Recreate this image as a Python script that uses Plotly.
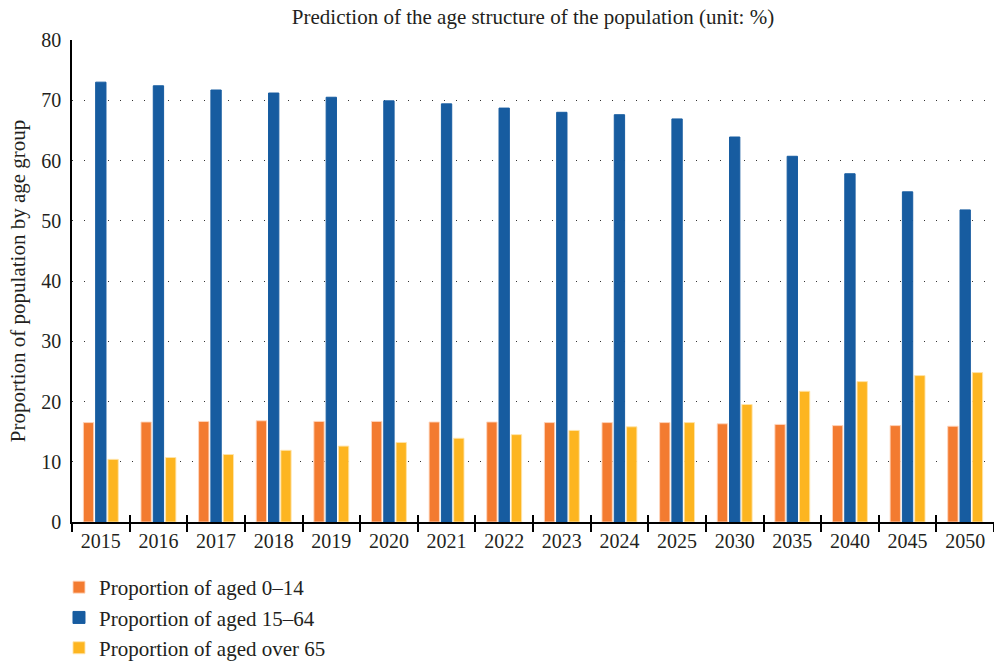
import plotly.graph_objects as go

# Forecast years and age-group shares (%)
years = ["2015", "2016", "2017", "2018", "2019", "2020", "2021", "2022",
         "2023", "2024", "2025", "2030", "2035", "2040", "2045", "2050"]
aged_0_14 = [16.5, 16.6, 16.7, 16.8, 16.7, 16.7, 16.6, 16.6,
             16.5, 16.5, 16.5, 16.3, 16.2, 16.0, 16.0, 15.9]
aged_15_64 = [73.0, 72.4, 71.7, 71.2, 70.5, 69.9, 69.4, 68.7,
              68.0, 67.6, 66.9, 63.9, 60.7, 57.8, 54.8, 51.8]
aged_65_plus = [10.4, 10.7, 11.2, 11.9, 12.6, 13.2, 13.9, 14.5,
                15.2, 15.8, 16.5, 19.5, 21.7, 23.3, 24.3, 24.8]

series_names = ["Proportion of aged 0\u201314",
                "Proportion of aged 15\u201364",
                "Proportion of aged over 65"]
series_colors = ["#F37B30", "#175CA0", "#FDB520"]
series_edges = ["rgba(255,214,190,0.9)", "rgba(23,92,160,1)", "rgba(255,228,170,0.9)"]

FONT = "Liberation Serif, Times New Roman, serif"
INK = "#231f20"

fig = go.Figure()
for i, (name, vals) in enumerate(zip(series_names, [aged_0_14, aged_15_64, aged_65_plus])):
    fig.add_trace(go.Bar(
        x=years, y=vals, name=name, legendgroup=f"g{i}",
        marker=dict(color=series_colors[i],
                    line=dict(color=series_edges[i], width=1)),
    ))

fig.update_layout(
    width=994, height=662,
    margin=dict(l=72, r=0, t=40, b=140, autoexpand=False),
    paper_bgcolor="white", plot_bgcolor="white",
    font=dict(family=FONT, color=INK, size=21),
    title=dict(text="Prediction of the age structure of the population (unit: %)",
               x=0.5, xref="paper", xanchor="center",
               y=0.975, yref="container", yanchor="middle",
               font=dict(size=21, color=INK)),
    barmode="group", bargap=0.36, bargroupgap=0.16,
    showlegend=True,
    legend=dict(orientation="v", x=-0.0141, xanchor="left",
                y=0.1435, yanchor="top", yref="container",
                font=dict(size=21, color=INK), tracegroupgap=0,
                bgcolor="rgba(0,0,0,0)", itemwidth=30),
    xaxis=dict(type="category", categoryorder="array", categoryarray=years,
               showline=True, linecolor="black", linewidth=1.5,
               ticks="outside", tickson="boundaries", ticklen=8,
               tickcolor="black", tickwidth=1.5, tickangle=0,
               tickfont=dict(size=20, color=INK), showgrid=False),
    xaxis2=dict(matches="x", overlaying="x", anchor="y", side="bottom",
                type="category", categoryorder="array", categoryarray=years,
                ticks="inside", tickson="boundaries", ticklen=7,
                tickcolor="black", tickwidth=1.5,
                showticklabels=False, showline=False, showgrid=False),
    yaxis=dict(range=[0, 80], dtick=10, tick0=0,
               showline=True, linecolor="black", linewidth=1.5,
               ticks="", tickfont=dict(size=20, color=INK),
               ticklabelstandoff=5,
               showgrid=True, gridcolor="#333333", gridwidth=1,
               griddash="1px,11px", zeroline=False,
               title=dict(text="Proportion of population by age group",
                          font=dict(size=21, color=INK), standoff=10)),
)

# an empty trace keeps the overlaid axis (inner boundary ticks) drawn
fig.add_trace(go.Bar(x=years, y=[None] * len(years), xaxis="x2",
                     showlegend=False, hoverinfo="skip"))

fig.write_html("out.html")
